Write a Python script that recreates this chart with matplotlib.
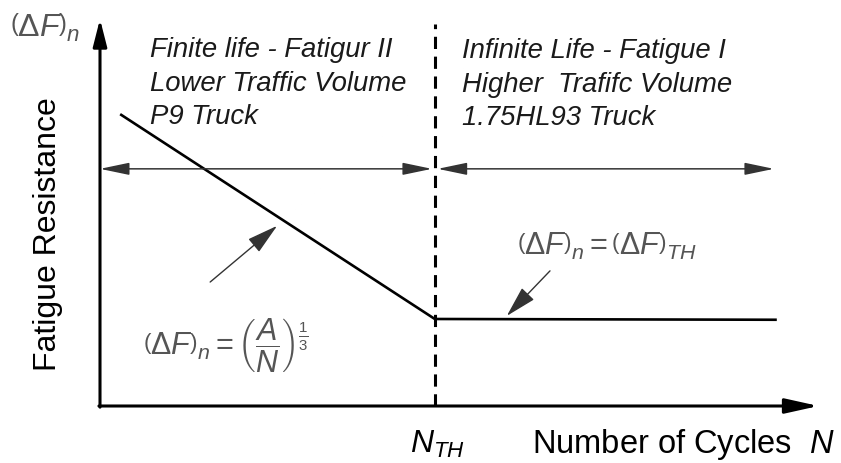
import matplotlib
matplotlib.use("Agg")
import matplotlib.pyplot as plt

# schematic S-N curve (arbitrary chart units, 0..100 on both axes)
curve_n = [2.8, 46.5, 94.0]
curve_f = [75.8, 22.6, 22.4]
n_th = 46.5
range_level = 61.6
range_left = [0.0, 46.1]
range_right = [46.9, 93.6]

left_lines = ["Finite life - Fatigur II", "Lower Traffic Volume", "P9 Truck"]
right_lines = ["Infinite Life - Fatigue I", "Higher  Trafifc Volume", "1.75HL93 Truck"]
line_y = [90.9, 82.1, 73.5]

plt.rcParams['font.family'] = ['Liberation Sans', 'DejaVu Sans']
plt.rcParams['mathtext.fontset'] = 'custom'
plt.rcParams['mathtext.rm'] = 'Liberation Sans'
plt.rcParams['mathtext.it'] = 'Liberation Sans:italic'
plt.rcParams['mathtext.sf'] = 'Liberation Sans'

fig = plt.figure(figsize=(8.41, 4.64), dpi=100)
ax = fig.add_axes([100 / 841, 57 / 464, 720 / 841, 385 / 464])
ax.set_xlim(0, 100)
ax.set_ylim(0, 100)
ax.axis('off')

# axes with arrows
ax.annotate('', xy=(0, 100.5), xytext=(0, -0.3),
            arrowprops=dict(arrowstyle='-|>,head_length=1.1,head_width=0.28',
                            lw=2.2, color='black', mutation_scale=15,
                            shrinkA=0, shrinkB=0), annotation_clip=False)
ax.annotate('', xy=(99.8, 0), xytext=(-0.15, 0),
            arrowprops=dict(arrowstyle='-|>,head_length=1.35,head_width=0.3',
                            lw=2.2, color='black', mutation_scale=15,
                            shrinkA=0, shrinkB=0), annotation_clip=False)

# resistance curve
ax.plot(curve_n, curve_f, color='black', lw=1.9, solid_capstyle='butt')

# threshold line
ax.plot([n_th, n_th], [0, 99.2], color='black', lw=2.2, linestyle=(0, (4, 2.5)))

# ranges
for rng in (range_left, range_right):
    ax.annotate('', xy=(rng[1], range_level), xytext=(rng[0], range_level),
                arrowprops=dict(arrowstyle='<|-|>,head_length=1.2,head_width=0.25',
                                lw=1.1, color='#333333', mutation_scale=15,
                                shrinkA=0, shrinkB=0), annotation_clip=False)

for txt, y in zip(left_lines, line_y):
    ax.text(6.9, y, txt, fontsize=19.8, style='italic', color='#1a1a1a', va='baseline')
for txt, y in zip(right_lines, line_y):
    ax.text(50.3, y - 0.3, txt, fontsize=19.8, style='italic', color='#1a1a1a', va='baseline')

# formulas and pointers
ax.text(6.0, 16.1, r'$\left(\Delta F\right)_n = \left(\dfrac{A}{N}\right)^{\frac{1}{3}}$',
        fontsize=22, color='#555555', va='center', ha='left')
ax.annotate('', xy=(24.6, 46.8), xytext=(15.3, 32.2),
            arrowprops=dict(arrowstyle='-|>,head_length=1.3,head_width=0.35',
                            lw=1.0, color='#333333', mutation_scale=15,
                            shrinkA=0, shrinkB=0))
ax.text(57.9, 41.6, r'$\left(\Delta F\right)_n = \left(\Delta F\right)_{TH}$',
        fontsize=22, color='#555555', va='center', ha='left')
ax.annotate('', xy=(56.5, 23.4), xytext=(62.5, 35.1),
            arrowprops=dict(arrowstyle='-|>,head_length=1.3,head_width=0.35',
                            lw=1.0, color='#333333', mutation_scale=15,
                            shrinkA=0, shrinkB=0))

# axis labels
ax.text(-12.5, 98.4, r'$\left(\Delta F\right)_n$', fontsize=23, color='#555555',
        va='center', ha='left', clip_on=False)
ax.text(-7.2, 44.9, 'Fatigue Resistance', fontsize=23, rotation=90,
        va='center', ha='center', clip_on=False)
ax.text(46.9, -11.9, r'$N_{TH}$', fontsize=23, va='baseline', ha='center', clip_on=False)
ax.text(60.0, -11.9, r'Number of Cycles  $N$', fontsize=23.5, va='baseline', ha='left',
        clip_on=False)

fig.savefig('out.png', dpi=100)
